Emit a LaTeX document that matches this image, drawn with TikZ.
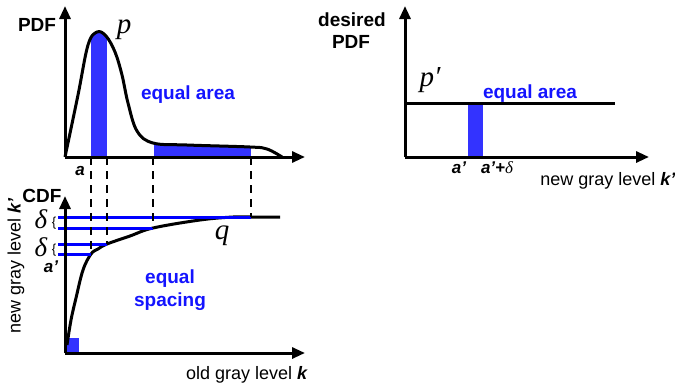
\documentclass[tikz,border=0pt]{standalone}
\usepackage{fontspec}
\setmainfont{Liberation Sans}
\newfontfamily\serif{Liberation Serif}
\usetikzlibrary{arrows.meta}
\definecolor{barblue}{RGB}{51,51,255}
\definecolor{txtblue}{RGB}{20,20,255}
\begin{document}
\begin{tikzpicture}[x=1pt,y=-1pt,
  axis/.style={line width=3pt,-{Triangle[length=13pt,width=11pt]}},
  curve/.style={line width=3pt, line join=round},
  guide/.style={line width=2.3pt, dash pattern=on 8pt off 6pt},
  level/.style={line width=3pt, blue},
  lbl/.style={font=\fontsize{19}{23}\selectfont\bfseries, inner sep=0pt},
  bluelbl/.style={lbl, text=txtblue},
  plain/.style={font=\fontsize{18}{22}\selectfont, inner sep=0pt},
  mathlbl/.style={font=\fontsize{29}{30}\selectfont\serif\itshape, inner sep=0pt},
  deltalbl/.style={font=\fontsize{27}{28}\selectfont\serif\itshape, inner sep=0pt, text depth=0pt, anchor=base},
  bracelbl/.style={font=\fontsize{13}{14}\selectfont, inner sep=0pt},
  smalllbl/.style={font=\fontsize{17}{20}\selectfont\bfseries\itshape, inner sep=0pt},
]
\useasboundingbox (0,0) rectangle (675,383);

% ---------- top-left PDF ----------
\coordinate (o1) at (65,157);
\coordinate (y1) at (65,6);
\coordinate (x1) at (305,157);
\begin{scope}
  \clip plot[smooth,tension=0.6] coordinates {(65,157) (78,95) (88,45) (97,32) (106,36) (115,52) (122,75) (128,103) (137,131) (153,143) (187,145) (250,147) (267,149) (282,157)} -- cycle;
  \fill[barblue] (91,0) rectangle (107,157);
  \fill[barblue] (154,0) rectangle (251,157);
\end{scope}
\draw[curve] plot[smooth,tension=0.6] coordinates {(65,157) (78,95) (88,45) (97,32) (106,36) (115,52) (122,75) (128,103) (137,131) (153,143) (187,145) (250,147) (267,149) (282,157)};
\draw[axis] (o1) -- (y1);
\draw[axis] (o1) -- (x1);
\node[lbl] (pdf) at (37,25) {PDF};
\node[mathlbl] (p) at (124,30) {p};
\node[bluelbl] (ea1) at (188,95) {equal area};
\node[smalllbl] (a) at (80,171) {a};

% ---------- CDF ----------
\coordinate (o2) at (65,353);
\coordinate (y2) at (65,196);
\coordinate (x2) at (305,353);
\fill[barblue] (65,338) rectangle (79,353);
\draw[curve] plot[smooth,tension=0.6] coordinates {(67,345) (71,320) (76,298) (83,270) (91,254) (98,249) (107,244) (130,236) (153,228) (200,220) (233,217) (251,217) (280,217)};
\coordinate (q1) at (91,254);
\coordinate (q2) at (107,244);
\coordinate (q3) at (153,228);
\coordinate (q4) at (251,217);
\coordinate (s1) at (58,254);
\coordinate (s2) at (58,244);
\coordinate (s3) at (58,228);
\coordinate (s4) at (58,217);
\draw[level] (s1) -- (q1);
\draw[level] (s2) -- (q2);
\draw[level] (s3) -- (q3);
\draw[level] (s4) -- (q4);
\coordinate (t1) at (91,157);
\coordinate (t2) at (107,157);
\coordinate (t3) at (153,157);
\coordinate (t4) at (251,157);
\draw[guide] (t1) -- (q1);
\draw[guide] (t2) -- (q2);
\draw[guide] (t3) -- (q3);
\draw[guide] (t4) -- (q4);
\draw[axis] (o2) -- (y2);
\draw[axis] (o2) -- (x2);
\node[lbl] (cdf) at (42,196) {CDF};
\node[deltalbl] (d1) at (41,228) {δ};
\node[bracelbl] (b1) at (54,223) {\{};
\node[deltalbl] (d2) at (41,256) {δ};
\node[bracelbl] (b2) at (54,250) {\{};
\node[smalllbl, anchor=base, text depth=0pt] (ap) at (51,272) {a’};
\node[mathlbl] (q) at (222,236) {q};
\node[bluelbl,align=center] (es) at (170,290) {equal\\spacing};
\node[plain,rotate=90] (ny) at (16,266) {new gray level \textbf{\textit{k’}}};
\node[plain] (ox) at (247,375) {old gray level \textbf{\textit{k}}};

% ---------- right desired PDF ----------
\coordinate (o3) at (405,157);
\coordinate (y3) at (405,6);
\coordinate (x3) at (649,157);
\fill[barblue] (468,103) rectangle (483,157);
\coordinate (h1) at (405,103);
\coordinate (h2) at (615,103);
\draw[curve] (h1) -- (h2);
\draw[axis] (o3) -- (y3);
\draw[axis] (o3) -- (x3);
\node[lbl] (des) at (352,20) {desired};
\node[lbl] (dpdf) at (351,42) {PDF};
\node[mathlbl] (pp) at (430,80) {p′};
\node[bluelbl] (ea2) at (530,94) {equal area};
\node[smalllbl] (a1) at (459,168) {a’};
\node[smalllbl] (a2) at (497,168) {a’+{\mdseries\serif δ}};
\node[plain] (nx) at (608,181) {new gray level \textbf{\textit{k’}}};
\end{tikzpicture}
\end{document}
